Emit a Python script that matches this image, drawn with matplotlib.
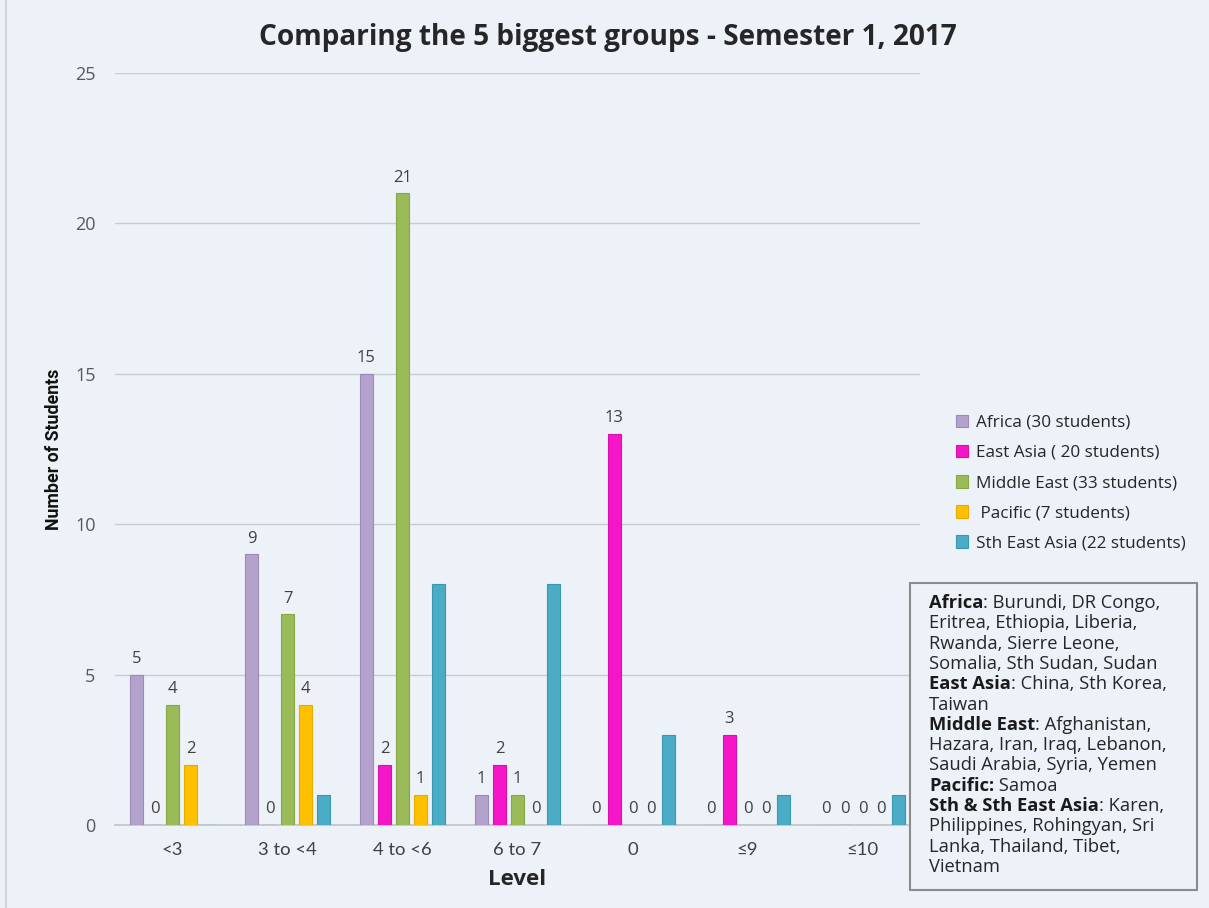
import matplotlib
matplotlib.use("Agg")
import matplotlib.pyplot as plt
import numpy as np
from matplotlib.patches import Rectangle

categories = ["<3", "3 to <4", "4 to <6", "6 to 7", "0", "≤9", "≤10"]
series_names = ["Africa (30 students)", "East Asia ( 20 students)", "Middle East (33 students)",
                " Pacific (7 students)", "Sth East Asia (22 students)"]
africa = [5, 9, 15, 1, 0, 0, 0]
east_asia = [0, 0, 2, 2, 13, 3, 0]
middle_east = [4, 7, 21, 1, 0, 0, 0]
pacific = [2, 4, 1, 0, 0, 0, 0]
sth_east_asia = [0, 1, 8, 8, 3, 1, 1]
show_labels = [True, True, True, True, False]
colors = ["#B3A2CC", "#F516C8", "#9BBB59", "#FFC000", "#4BACC6"]
edge_colors = ["#9A8AB8", "#D810AE", "#86A748", "#E5AC00", "#3A97B0"]

W, H = 1209, 908
bg = "#EDF1F8"
fig = plt.figure(figsize=(W / 100, H / 100), dpi=100)
fig.patch.set_facecolor(bg)
ax = fig.add_axes([115 / W, 1 - 825 / H, 805 / W, 752 / H])
ax.set_facecolor(bg)

all_series = [africa, east_asia, middle_east, pacific, sth_east_asia]
x = np.arange(len(categories))
slot = 0.157
width = 0.115
for i, (vals, name, c, ec, sl) in enumerate(zip(all_series, series_names, colors, edge_colors, show_labels)):
    pos = x + (i - 2) * slot
    ax.bar(pos, vals, width=width, color=c, edgecolor=ec, linewidth=0.8, label=name, zorder=3)
    if sl:
        for p, v in zip(pos, vals):
            ax.text(p, v + 0.25, f"{v}", ha="center", va="bottom", fontsize=12,
                    color="#404040", family="Open Sans", zorder=4)

ax.set_xlim(-0.5, len(categories) - 0.5)
ax.set_ylim(0, 25)
ax.set_yticks([0, 5, 10, 15, 20, 25])
ax.yaxis.grid(True, color="#C8CCD4", linewidth=1, zorder=0)
ax.set_axisbelow(True)
for s in ["top", "right", "left"]:
    ax.spines[s].set_visible(False)
ax.spines["bottom"].set_color("#BFC3CA")
ax.spines["bottom"].set_linewidth(1.2)
ax.tick_params(axis="both", length=0)
ax.tick_params(axis="y", labelsize=13, labelcolor="#595959", pad=14)
ax.tick_params(axis="x", labelsize=13.3, labelcolor="#404040", pad=12)
ax.set_xticks(x)
ax.set_xticklabels(categories, family=["Lato", "DejaVu Sans"])
for lab in ax.get_yticklabels():
    lab.set_family("Open Sans")

ax.set_ylabel("Number of Students", fontsize=12.8, fontweight="bold",
              family="Roboto", color="#111111", labelpad=9)
ax.set_xlabel("Level", fontsize=16, fontweight="bold", family="Open Sans",
              color="#262626", labelpad=8)

fig.text(0.503, 1 - 38 / H, "Comparing the 5 biggest groups - Semester 1, 2017", ha="center",
         va="center", fontsize=20.2, fontweight="bold", family="Open Sans", color="#262626")

leg = ax.legend(loc="upper left", bbox_to_anchor=(947 / W, 1 - 406 / H), bbox_transform=fig.transFigure,
                frameon=False, handlelength=0.75, handleheight=0.75,
                handletextpad=0.45, labelspacing=0.82, borderpad=0,
                prop={"family": "Open Sans", "size": 12.3})
for t in leg.get_texts():
    t.set_color("#262626")

# text box
fig.patches.append(Rectangle((910 / W, 1 - 890 / H), 287 / W, 307 / H,
                             transform=fig.transFigure, facecolor=bg,
                             edgecolor="#8C8C8C", linewidth=1.5, zorder=1))
fig.patches.append(Rectangle((0.004, 0.0), 0.0015, 1.0, transform=fig.transFigure,
                             facecolor="#D0D3D8", edgecolor="none"))

box_lines = [
    ("Africa", ": Burundi, DR Congo,"),
    ("", "Eritrea, Ethiopia, Liberia,"),
    ("", "Rwanda, Sierre Leone,"),
    ("", "Somalia, Sth Sudan, Sudan"),
    ("East Asia", ": China, Sth Korea,"),
    ("", "Taiwan"),
    ("Middle East", ": Afghanistan,"),
    ("", "Hazara, Iran, Iraq, Lebanon,"),
    ("", "Saudi Arabia, Syria, Yemen"),
    ("Pacific:", " Samoa"),
    ("Sth & Sth East Asia", ": Karen,"),
    ("", "Philippines, Rohingyan, Sri"),
    ("", "Lanka, Thailand, Tibet,"),
    ("", "Vietnam"),
]
x0 = 929 / W
y_start = 603
dy = 20.3
fs = 13.2
renderer = fig.canvas.get_renderer()
for k, (b, r) in enumerate(box_lines):
    yy = 1 - (y_start + k * dy) / H
    xr = x0
    if b:
        tb = fig.text(x0, yy, b, ha="left", va="center", fontsize=fs, fontweight="bold",
                      family="Open Sans", color="#1a1a1a", zorder=3)
        ext = tb.get_window_extent(renderer)
        xr = ext.x1 / W
    fig.text(xr, yy, r, ha="left", va="center", fontsize=fs, family="Open Sans",
             color="#262626", zorder=3)

fig.savefig("out.png", dpi=100, facecolor=bg)
